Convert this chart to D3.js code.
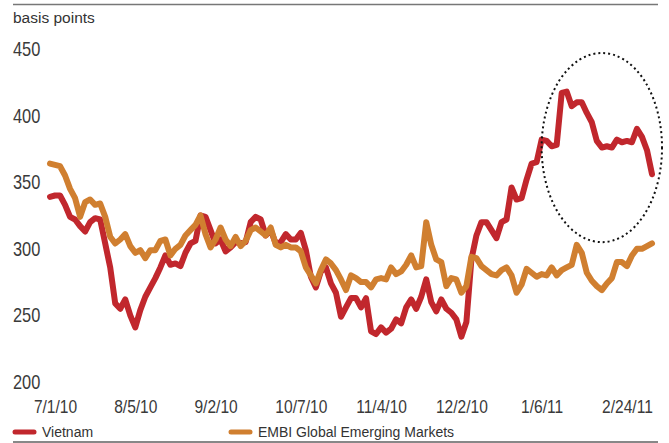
<!DOCTYPE html>
<html>
<head>
<meta charset="utf-8">
<script src="https://cdn.jsdelivr.net/npm/d3@7"></script>
<style>
  body { margin: 0; background: #fff; }
  .tick text { font-family: "Liberation Sans", Arial, sans-serif; fill: #3a3a3a; }
  .lbl { font-family: "Liberation Sans", Arial, sans-serif; fill: #333; }
</style>
</head>
<body>
<div id="chart"></div>
<script>
'use strict';

// spread in basis points (one value per ~5px step)
const vietnam = [339, 340, 340, 333, 324, 322, 317, 313, 320, 323,
  322, 304, 286, 259, 255, 262, 250, 241, 254, 264,
  271, 278, 286, 295, 288, 289, 287, 297, 304, 306,
  325, 324, 314, 304, 307, 298, 301, 305, 304, 305,
  320, 324, 322, 310, 314, 304, 305, 311, 307, 307,
  312, 299, 279, 271, 283, 286, 274, 267, 249, 256,
  263, 263, 256, 263, 238, 236, 241, 237, 240, 247,
  244, 256, 262, 255, 264, 277, 260, 253, 262, 255,
  252, 247, 234, 245, 292, 310, 320, 320, 314, 308,
  320, 322, 346, 337, 338, 352, 364, 365, 382, 381,
  377, 378, 417, 418, 407, 410, 410, 402, 395, 381,
  376, 377, 376, 382, 380, 381, 380, 390, 384, 374, 356];

const embi = [364, 363, 362, 355, 345, 338, 324, 335, 337, 333,
  334, 324, 309, 304, 307, 311, 302, 297, 299, 293,
  299, 299, 306, 307, 295, 300, 303, 310, 314, 318,
  325, 311, 301, 307, 316, 307, 302, 309, 302, 306,
  314, 316, 313, 310, 316, 303, 301, 303, 301, 301,
  298, 286, 280, 274, 284, 292, 289, 284, 277, 269,
  280, 278, 275, 275, 271, 277, 278, 277, 286, 281,
  283, 288, 295, 286, 287, 320, 303, 292, 290, 272,
  278, 277, 267, 272, 294, 293, 287, 284, 281, 280,
  284, 286, 280, 267, 273, 285, 282, 279, 281, 280,
  286, 280, 284, 286, 288, 303, 297, 282, 276, 272,
  269, 274, 278, 290, 290, 287, 295, 300, 300, 302, 304];

const tickLabels = ['7/1/10', '8/5/10', '9/2/10', '10/7/10', '11/4/10', '12/2/10', '1/6/11', '2/24/11'];
const tickIndex = [1, 17, 33, 50, 66, 82, 98, 115];
const yTicks = [200, 250, 300, 350, 400, 450];

const seriesNames = ['Vietnam', 'EMBI Global Emerging Markets'];
const colors = ['#c1272d', '#d07f30'];

// dotted ring round the recent Vietnam spike (index / basis points)
const ring = {cx: 110, cy: 376, rx: 12, ry: 71};

const width = 669, height = 443;

const svg = d3.select('#chart').append('svg')
  .attr('width', width)
  .attr('height', height);

const x = d3.scaleLinear()
  .domain([0, vietnam.length - 1])
  .range([50, 652]);

const y = d3.scaleLinear()
  .domain([200, 450])
  .range([382, 49]);

// top rule and unit label
svg.append('line')
  .attr('x1', 13).attr('x2', 658)
  .attr('y1', 4.5).attr('y2', 4.5)
  .attr('stroke', '#777').attr('stroke-width', 1.5);

svg.append('text')
  .attr('class', 'lbl')
  .attr('x', 13).attr('y', 23)
  .style('font-size', '15.5px')
  .text('basis points');

// y axis: labels only, squeezed to look condensed
svg.append('g')
  .attr('class', 'y axis')
  .attr('transform', 'translate(13,0)')
  .call(d3.axisRight(y).tickValues(yTicks).tickSize(0).tickPadding(0))
  .call(g => g.select('.domain').remove())
  .call(g => g.selectAll('text')
    .style('font-size', '20px')
    .attr('text-anchor', 'start')
    .attr('transform', 'scale(0.82,1)'));

// x axis: labels only
svg.append('g')
  .attr('class', 'x axis')
  .attr('transform', 'translate(0,400)')
  .call(d3.axisBottom(x)
    .tickValues(tickIndex)
    .tickFormat((d, i) => tickLabels[i])
    .tickSize(0).tickPadding(0))
  .call(g => g.select('.domain').remove())
  .call(g => g.selectAll('text')
    .style('font-size', '19px')
    .attr('dy', '0.71em')
    .attr('transform', 'scale(0.82,1)'));

const line = d3.line()
  .x((d, i) => x(i))
  .y(d => y(d));

[vietnam, embi].forEach((arr, k) => {
  svg.append('path')
    .datum(arr)
    .attr('fill', 'none')
    .attr('stroke', colors[k])
    .attr('stroke-width', 6)
    .attr('stroke-linejoin', 'round')
    .attr('stroke-linecap', 'round')
    .attr('d', line);
});

// annotation ellipse
svg.append('ellipse')
  .attr('cx', x(ring.cx))
  .attr('cy', y(ring.cy))
  .attr('rx', x(ring.cx + ring.rx) - x(ring.cx))
  .attr('ry', y(ring.cy - ring.ry) - y(ring.cy))
  .attr('fill', 'none')
  .attr('stroke', '#111')
  .attr('stroke-width', 2)
  .attr('stroke-dasharray', '2,3');

// legend
const legendX = [13, 229];
const legend = svg.append('g');
seriesNames.forEach((name, k) => {
  legend.append('line')
    .attr('x1', legendX[k] + 2).attr('x2', legendX[k] + 21)
    .attr('y1', 432).attr('y2', 432)
    .attr('stroke', colors[k])
    .attr('stroke-width', 5)
    .attr('stroke-linecap', 'round');
  legend.append('text')
    .attr('class', 'lbl')
    .attr('x', legendX[k] + 29).attr('y', 437)
    .style('font-size', '14px')
    .text(name);
});

svg.append('line')
  .attr('x1', 13).attr('x2', 658)
  .attr('y1', 442).attr('y2', 442)
  .attr('stroke', '#111').attr('stroke-width', 1);
</script>
</body>
</html>
